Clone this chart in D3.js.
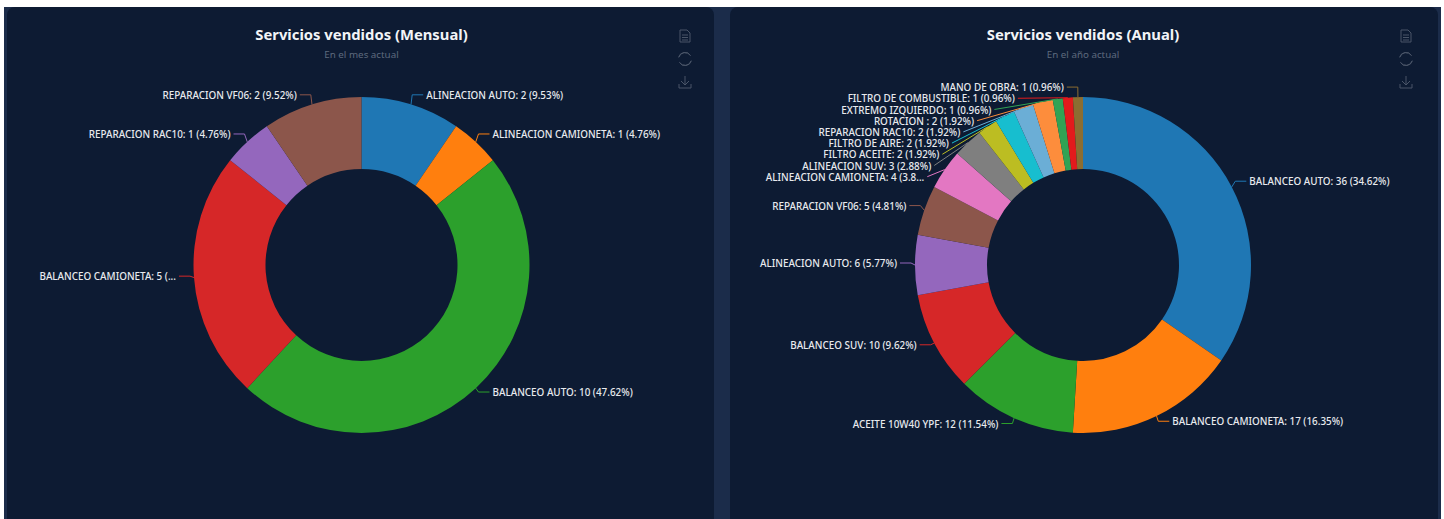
<!DOCTYPE html>
<html>
<head>
<meta charset="utf-8">
<script src="https://cdn.jsdelivr.net/npm/d3@7"></script>
<style>
  html, body { margin: 0; padding: 0; background: #fff; overflow: hidden; }
  text { font-family: "Noto Sans", "Open Sans", sans-serif; }
</style>
</head>
<body>
<svg id="chart" width="1444" height="519"></svg>
<script>
// monthly chart
var mesNames = ["ALINEACION AUTO", "ALINEACION CAMIONETA", "BALANCEO AUTO", "BALANCEO CAMIONETA", "REPARACION RAC10", "REPARACION VF06"];
var mesValues = [2, 1, 10, 5, 1, 2];
var mesPercents = ["9.53", "4.76", "47.62", "23.81", "4.76", "9.52"];

// yearly chart
var anioNames = ["BALANCEO AUTO", "BALANCEO CAMIONETA", "ACEITE 10W40 YPF", "BALANCEO SUV", "ALINEACION AUTO", "REPARACION VF06", "ALINEACION CAMIONETA", "ALINEACION SUV", "FILTRO ACEITE", "FILTRO DE AIRE", "REPARACION RAC10", "ROTACION ", "EXTREMO IZQUIERDO", "FILTRO DE COMBUSTIBLE", "MANO DE OBRA"];
var anioValues = [36, 17, 12, 10, 6, 5, 4, 3, 2, 2, 2, 2, 1, 1, 1];
var anioPercents = ["34.62", "16.35", "11.54", "9.62", "5.77", "4.81", "3.85", "2.88", "1.92", "1.92", "1.92", "1.92", "0.96", "0.96", "0.96"];

var palette = ["#1f77b4", "#ff7f0e", "#2ca02c", "#d62728", "#9467bd", "#8c564b", "#e377c2", "#7f7f7f", "#bcbd22", "#17becf", "#6baed6", "#fd8d3c", "#31a354", "#e31a1c", "#8c6d31"];

var cardColor = "#0d1b33";
var pageColor = "#1b2c4a";
var outerR = 168;
var innerR = 96;
var elbowRx = 172;
var elbowRy = 176;
var lineLen2 = 11;
var labelGap = 3;
var labelStep = 11.2;

var svg = d3.select("#chart");

svg.append("rect")
    .attr("x", 4).attr("y", 7)
    .attr("width", 1437).attr("height", 512)
    .attr("fill", pageColor);

function drawIcons(g) {
    var stroke = "#4a5568";
    var doc = g.append("g").attr("transform", "translate(0, 36)")
        .attr("fill", "none").attr("stroke", stroke).attr("stroke-width", 1);
    doc.append("path").attr("d", "M-5,-6 H2 L5,-3 V6 H-5 Z");
    doc.append("path").attr("d", "M-3,-1 H3 M-3,1.5 H3 M-3,4 H3");

    var refresh = g.append("g").attr("transform", "translate(0, 59)")
        .attr("fill", "none").attr("stroke", stroke).attr("stroke-width", 1);
    var arc = d3.arc().innerRadius(6.5).outerRadius(6.5);
    refresh.append("path").attr("d", arc({startAngle: -1.3, endAngle: 1.0}));
    refresh.append("path").attr("d", arc({startAngle: 1.85, endAngle: 4.15}));

    var down = g.append("g").attr("transform", "translate(0, 82)")
        .attr("fill", "none").attr("stroke", stroke).attr("stroke-width", 1);
    down.append("path").attr("d", "M0,-6 V3 M-4,-1 L0,3 L4,-1");
    down.append("path").attr("d", "M-6,2 V6 H6 V2");
}

function drawPie(opts) {
    var card = svg.append("g").attr("transform", `translate(${opts.left}, 7)`);
    card.append("rect")
        .attr("width", opts.width).attr("height", 530)
        .attr("rx", 8)
        .attr("fill", cardColor);

    var g = svg.append("g");
    var cx = opts.cx, cy = 265;

    g.append("text")
        .attr("x", cx).attr("y", 39.5)
        .attr("text-anchor", "middle")
        .attr("font-size", 14.8).attr("font-weight", 700)
        .attr("fill", "#f2f4f7")
        .text(opts.title);
    g.append("text")
        .attr("x", cx).attr("y", 58)
        .attr("text-anchor", "middle")
        .attr("font-size", 9.8)
        .attr("fill", "#5d6a7e")
        .text(opts.subtitle);

    drawIcons(g.append("g").attr("transform", `translate(${opts.iconX}, 0)`));

    var color = d3.scaleOrdinal().domain(d3.range(opts.values.length)).range(palette);
    var pie = d3.pie().value(d => d).sort(null);
    var arcs = pie(opts.values);
    var arc = d3.arc().innerRadius(innerR).outerRadius(outerR);

    var plot = g.append("g").attr("transform", `translate(${cx}, ${cy})`);
    plot.selectAll("path.slice")
        .data(arcs)
        .enter().append("path")
        .attr("class", "slice")
        .attr("d", arc)
        .attr("fill", (d, i) => color(i));

    // label layout: walk each side from the top and push overlapping labels down
    var labels = arcs.map(function(d, i) {
        var mid = (d.startAngle + d.endAngle) / 2;
        var ey = -Math.cos(mid) * elbowRy - 2;
        return {
            i: i,
            sx: Math.sin(mid) * outerR,
            sy: -Math.cos(mid) * outerR,
            ex: Math.sin(mid) * elbowRx,
            ey: ey,
            side: Math.sin(mid) >= 0 ? 1 : -1,
            y: ey,
            shifted: false
        };
    });

    [1, -1].forEach(function(side) {
        var last = null;
        labels.filter(l => l.side === side)
            .sort((a, b) => a.ey - b.ey)
            .forEach(function(l) {
                if (last !== null && l.y - last < labelStep) {
                    l.y = last + labelStep;
                    l.shifted = true;
                }
                last = l.y;
            });
    });

    labels.forEach(function(l) {
        var points, endX;
        if (l.shifted) {
            var dx = Math.sqrt(Math.max(0, Math.pow(outerR + 11, 2) - l.y * l.y));
            endX = l.side * dx;
            points = [[l.sx, l.sy], [endX, l.y]];
        }
        else {
            endX = l.ex + l.side * lineLen2;
            points = [[l.sx, l.sy], [l.ex, l.ey], [endX, l.y]];
        }
        plot.append("path")
            .attr("d", d3.line()(points))
            .attr("fill", "none")
            .attr("stroke", color(l.i))
            .attr("stroke-width", 1);

        var textX = endX + l.side * labelGap;
        var text = plot.append("text")
            .attr("x", textX)
            .attr("y", l.y)
            .attr("dy", "0.42em")
            .attr("text-anchor", l.side > 0 ? "start" : "end")
            .attr("font-size", 9.9)
            .attr("font-weight", 500)
            .attr("fill", "#e8eaee");

        var full = `${opts.names[l.i]}: ${opts.values[l.i]} (${opts.percents[l.i]}%)`;
        text.text(full);

        // cut long labels on the left that would run past the card edge
        var pad = l.shifted ? opts.pad + 3 : opts.pad;
        var maxWidth = (cx + textX) - (opts.left + pad);
        if (l.side < 0 && text.node().getComputedTextLength() > maxWidth) {
            var n = full.length;
            while (n > 0 && text.node().getComputedTextLength() > maxWidth) {
                n--;
                text.text(full.slice(0, n) + "...");
            }
        }
    });
}

drawPie({
    left: 7, width: 707, cx: 361.5, iconX: 685, pad: 30,
    title: "Servicios vendidos (Mensual)", subtitle: "En el mes actual",
    names: mesNames, values: mesValues, percents: mesPercents
});

drawPie({
    left: 730, width: 708, cx: 1083, iconX: 1406, pad: 30,
    title: "Servicios vendidos (Anual)", subtitle: "En el año actual",
    names: anioNames, values: anioValues, percents: anioPercents
});
</script>
</body>
</html>
